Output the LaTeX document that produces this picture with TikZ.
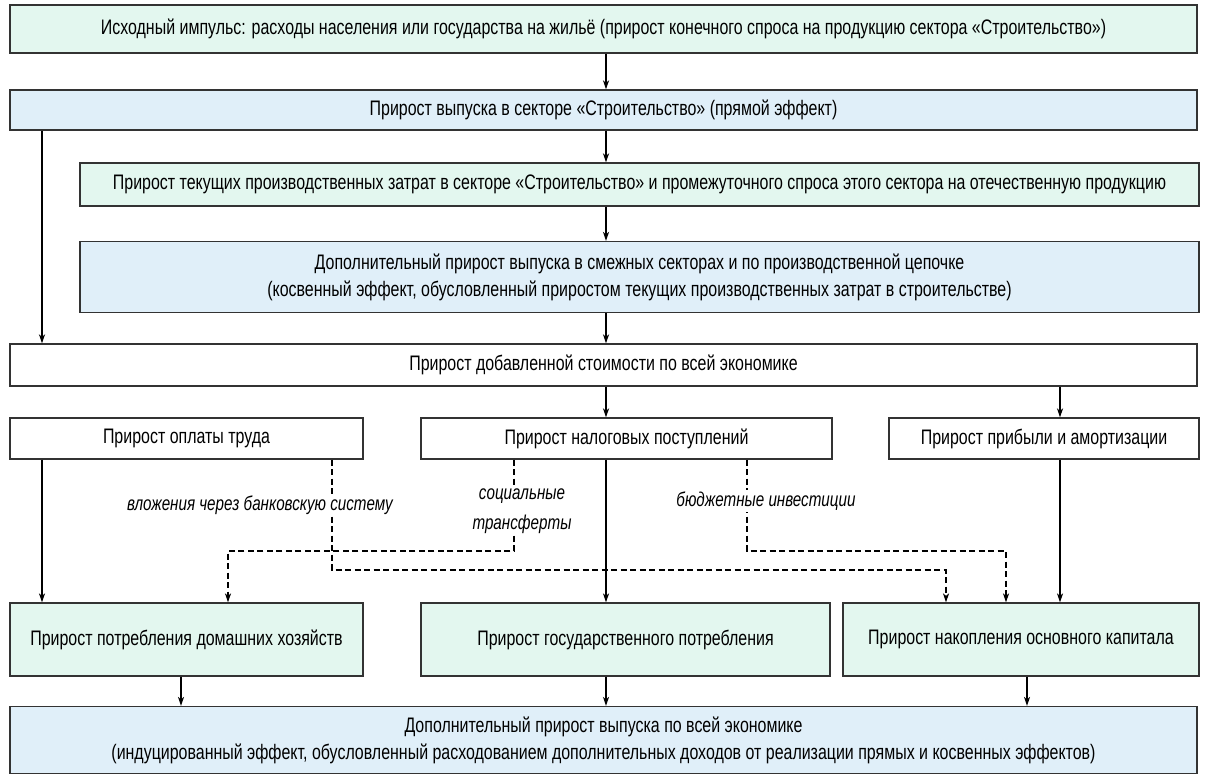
\documentclass[tikz,border=0pt]{standalone}
\usepackage{fontspec}
\setmainfont[FakeStretch=0.76]{Liberation Sans}
\usetikzlibrary{arrows.meta,calc}

\definecolor{mintfill}{HTML}{E3F7EF}
\definecolor{skyfill}{HTML}{E0EFF9}
\definecolor{edgegray}{HTML}{333333}

\begin{document}
\begin{tikzpicture}[x=1pt,y=-1pt,
  box/.style={draw=edgegray, line width=1.2pt, inner sep=0pt, align=center,
    font=\fontsize{21}{27}\selectfont},
  gbox/.style={box, fill=mintfill},
  bbox/.style={box, fill=skyfill},
  wbox/.style={box, fill=white},
  arr/.style={-{Stealth[length=9pt,width=6pt,inset=2.5pt]}, line width=1.4pt, black},
  darr/.style={-{Stealth[length=9pt,width=6pt,inset=2.5pt]}, line width=1.4pt, black,
    dash pattern=on 6pt off 3.5pt},
  lbl/.style={fill=white, inner sep=2pt, align=center,
    font=\fontsize{20}{30}\selectfont\itshape}
]
\useasboundingbox (0,0) rectangle (1206,778);

% vertical guide columns for the connectors
\coordinate (cmid) at (606,0);
\coordinate (cleft) at (42,0);
\coordinate (cright) at (1060,0);
\coordinate (dhh) at (181,0);
\coordinate (dcap) at (1027,0);
\coordinate (bank) at (332,0);
\coordinate (soc) at (514,0);
\coordinate (bud) at (747,0);
\coordinate (hhin) at (228,0);
\coordinate (capinA) at (946,0);
\coordinate (capinB) at (1006,0);
\coordinate (yhigh) at (0,551);
\coordinate (ylow) at (0,570);

% chain of direct and indirect effects
\node[gbox, minimum width=1187pt, minimum height=48pt] (b1) at (603.5,29)
  {Исходный импульс: расходы населения или государства на жильё (прирост конечного спроса на продукцию сектора «Строительство»)};
\node[bbox, minimum width=1187pt, minimum height=40pt] (b2) at (603.5,110)
  {Прирост выпуска в секторе «Строительство» (прямой эффект)};
\node[gbox, minimum width=1119pt, minimum height=43pt] (b3) at (639.5,184.5)
  {Прирост текущих производственных затрат в секторе «Строительство» и промежуточного спроса этого сектора на отечественную продукцию};
\node[bbox, minimum width=1119pt, minimum height=71pt] (b4) at (639.5,277)
  {Дополнительный прирост выпуска в смежных секторах и по производственной цепочке\\
   (косвенный эффект, обусловленный приростом текущих производственных затрат в строительстве)};
\node[wbox, minimum width=1187pt, minimum height=42pt] (b5) at (603.5,365)
  {Прирост добавленной стоимости по всей экономике};

% distribution of value added
\node[wbox, minimum width=353pt, minimum height=41pt] (wage) at (186.5,438.5)
  {Прирост оплаты труда};
\node[wbox, minimum width=411pt, minimum height=41pt] (tax) at (626.5,438.5)
  {Прирост налоговых поступлений};
\node[wbox, minimum width=310pt, minimum height=41pt] (prof) at (1044,438.5)
  {Прирост прибыли и амортизации};

% final demand components
\node[gbox, minimum width=353pt, minimum height=73pt] (hh) at (186.5,639.5)
  {Прирост потребления домашних хозяйств};
\node[gbox, minimum width=409pt, minimum height=73pt] (gov) at (625.5,639.5)
  {Прирост государственного потребления};
\node[gbox, minimum width=356pt, minimum height=73pt] (cap) at (1021,639.5)
  {Прирост накопления основного капитала};

% induced effect
\node[bbox, minimum width=1187pt, minimum height=67pt] (b8) at (603.5,740)
  {Дополнительный прирост выпуска по всей экономике\\
   (индуцированный эффект, обусловленный расходованием дополнительных доходов от реализации прямых и косвенных эффектов)};

% solid connectors
\draw[arr] (b1.south -| cmid) -- (b2.north -| cmid);
\draw[arr] (b2.south -| cmid) -- (b3.north -| cmid);
\draw[arr] (b3.south -| cmid) -- (b4.north -| cmid);
\draw[arr] (b4.south -| cmid) -- (b5.north -| cmid);
\draw[arr] (b2.south -| cleft) -- (b5.north -| cleft);
\draw[arr] (b5.south -| cmid) -- (tax.north -| cmid);
\draw[arr] (b5.south -| cright) -- (prof.north -| cright);
\draw[arr] (wage.south -| cleft) -- (hh.north -| cleft);
\draw[arr] (tax.south -| cmid) -- (gov.north -| cmid);
\draw[arr] (prof.south -| cright) -- (cap.north -| cright);
\draw[arr] (hh.south -| dhh) -- (b8.north -| dhh);
\draw[arr] (gov.south -| cmid) -- (b8.north -| cmid);
\draw[arr] (cap.south -| dcap) -- (b8.north -| dcap);

% dashed redistribution flows
\draw[darr] (wage.south -| bank) -- (bank |- ylow) -- (capinA |- ylow) -- (cap.north -| capinA);
\draw[darr] (tax.south -| soc) -- (soc |- yhigh) -- (hhin |- yhigh) -- (hh.north -| hhin);
\draw[darr] (tax.south -| bud) -- (bud |- yhigh) -- (capinB |- yhigh) -- (cap.north -| capinB);

% flow labels
\node[lbl] (lbank) at (260,505) {вложения через банковскую систему};
\node[lbl] (lsoc) at (522,511) {социальные\\трансферты};
\node[lbl] (lbud) at (766,501) {бюджетные инвестиции};
\end{tikzpicture}
\end{document}
